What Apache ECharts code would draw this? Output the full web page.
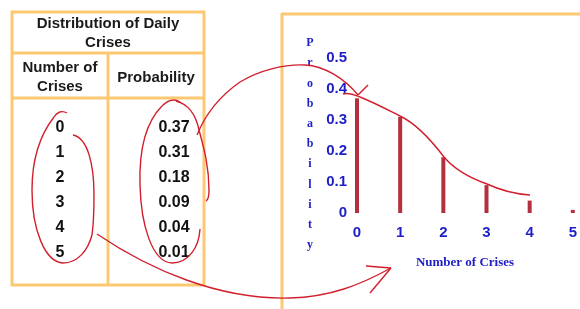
<!DOCTYPE html>
<html>
<head>
<meta charset="utf-8">
<script src="https://cdn.jsdelivr.net/npm/echarts@6/dist/echarts.min.js"></script>
<style>
  html, body { margin: 0; padding: 0; background: #fff; }
  #chart { width: 580px; height: 309px; }
</style>
</head>
<body>
<div id="chart"></div>
<script>
// data
const crises = ["0", "1", "2", "3", "4", "5"];
const probabilities = [0.37, 0.31, 0.18, 0.09, 0.04, 0.01];
const tableTitle = ["Distribution of Daily", "Crises"];
const colHeaders = ["Number of\nCrises", "Probability"];
const yAxisName = "Probability";
const xAxisName = "Number of Crises";

const orange = "#fdc872";
const blue = "#1e1ec8";
const red = "#d21f2e";
const barColor = "#b5303e";

const chart = echarts.init(document.getElementById("chart"), null, { renderer: "canvas" });

// table drawn with graphic elements
const tableEls = [
  { type: "rect", shape: { x: 12, y: 12, width: 192, height: 273 }, style: { fill: "none", stroke: orange, lineWidth: 3 } },
  { type: "line", shape: { x1: 12, y1: 53, x2: 204, y2: 53 }, style: { stroke: orange, lineWidth: 3 } },
  { type: "line", shape: { x1: 12, y1: 98, x2: 204, y2: 98 }, style: { stroke: orange, lineWidth: 3 } },
  { type: "line", shape: { x1: 108, y1: 53, x2: 108, y2: 285 }, style: { stroke: orange, lineWidth: 3 } },
  { type: "text", x: 108, y: 33, style: { text: tableTitle.join("\n"), lineHeight: 19, textAlign: "center", textVerticalAlign: "middle", font: 'bold 15px "Liberation Sans"', fill: "#1a1a1a" } },
  { type: "text", x: 60, y: 77, style: { text: colHeaders[0], lineHeight: 19, textAlign: "center", textVerticalAlign: "middle", font: 'bold 15px "Liberation Sans"', fill: "#1a1a1a" } },
  { type: "text", x: 156, y: 78, style: { text: colHeaders[1], textAlign: "center", textVerticalAlign: "middle", font: 'bold 15px "Liberation Sans"', fill: "#1a1a1a" } }
];
crises.forEach((c, i) => {
  tableEls.push({ type: "text", x: 60, y: 128 + i * 25, style: { text: c, textAlign: "center", textVerticalAlign: "middle", font: 'bold 16px "Liberation Sans"', fill: "#111" } });
  tableEls.push({ type: "text", x: 174, y: 128 + i * 25, style: { text: probabilities[i].toFixed(2), textAlign: "center", textVerticalAlign: "middle", font: 'bold 16px "Liberation Sans"', fill: "#111" } });
});

// hand drawn red annotations (pen strokes, not data)
const sketch = [
  "M67,113 C62,110 57,112 54,117 C40,135 32,160 32,190 C32,230 45,262 63,263 C78,263 88,250 92,235",
  "M73,135 C88,138 94,165 94,195 C94,215 93,228 92,235",
  "M180,102 C174,98 168,100 162,106 C146,122 139,150 140,185 C141,225 152,262 172,263 C188,263 199,248 200,229",
  "M176,101 C188,104 196,115 199,130 C203,145 209,165 209,190 C209,197 208,200 206,201",
  "M197,135 C205,115 220,96 240,82 C260,70 285,64 305,65 C325,66 345,79 358,95 L368,85",
  "M343,94 C350,92 355,95 360,97 C375,103 390,111 400,116 C415,123 428,136 444,157 C455,170 470,178 487,184 C500,190 515,194 530,195",
  "M97,234 C150,270 220,300 290,298 C330,297 360,285 391,268 M366,266 L391,268 L370,293"
];

function strokeEls(d) {
  const els = [];
  const pen = { fill: "none", stroke: red, lineWidth: 1.4 };
  const tokens = d.match(/[MCL]|-?\d+(\.\d+)?/g);
  let i = 0, cx = 0, cy = 0, cmd = null;
  while (i < tokens.length) {
    if (/[MCL]/.test(tokens[i])) cmd = tokens[i++];
    if (cmd === "M") {
      cx = +tokens[i++]; cy = +tokens[i++];
    } else if (cmd === "L") {
      const x = +tokens[i++], y = +tokens[i++];
      els.push({ type: "line", z: 10, shape: { x1: cx, y1: cy, x2: x, y2: y }, style: pen });
      cx = x; cy = y;
    } else if (cmd === "C") {
      const p = tokens.slice(i, i + 6).map(Number); i += 6;
      els.push({ type: "bezierCurve", z: 10, shape: { x1: cx, y1: cy, cpx1: p[0], cpy1: p[1], cpx2: p[2], cpy2: p[3], x2: p[4], y2: p[5] }, style: pen });
      cx = p[4]; cy = p[5];
    }
  }
  return els;
}
const sketchEls = sketch.flatMap(strokeEls);

const frameEls = [
  { type: "line", shape: { x1: 282, y1: 14, x2: 580, y2: 14 }, style: { stroke: orange, lineWidth: 3 } },
  { type: "line", shape: { x1: 282, y1: 13, x2: 282, y2: 309 }, style: { stroke: orange, lineWidth: 3 } },
  { type: "text", x: 310, y: 33, style: { text: yAxisName.split("").join("\n"), lineHeight: 20.2, textAlign: "center", textVerticalAlign: "top", font: 'bold 12px "Liberation Serif"', fill: blue } },
  { type: "text", x: 465, y: 263, style: { text: xAxisName, textAlign: "center", textVerticalAlign: "middle", font: 'bold 13px "Liberation Serif"', fill: blue } }
];

const option = {
  animation: false,
  grid: { left: 357, right: 5, top: 58, bottom: 96 },
  xAxis: {
    type: "category",
    data: crises,
    boundaryGap: false,
    axisLine: { show: false },
    axisTick: { show: false },
    axisLabel: { margin: 12, color: blue, fontSize: 15, fontWeight: "bold", fontFamily: "Liberation Sans" }
  },
  yAxis: {
    type: "value",
    min: 0,
    max: 0.5,
    interval: 0.1,
    splitLine: { show: false },
    axisLine: { show: false },
    axisTick: { show: false },
    axisLabel: {
      margin: 10,
      color: blue,
      fontSize: 15,
      fontWeight: "bold",
      fontFamily: "Liberation Sans",
      formatter: (v) => (v === 0 ? "0" : v.toFixed(1))
    }
  },
  series: [
    {
      type: "bar",
      data: probabilities,
      barWidth: 4,
      itemStyle: { color: barColor }
    }
  ],
  graphic: [...tableEls, ...frameEls, ...sketchEls]
};

chart.setOption(option);
</script>
</body>
</html>
